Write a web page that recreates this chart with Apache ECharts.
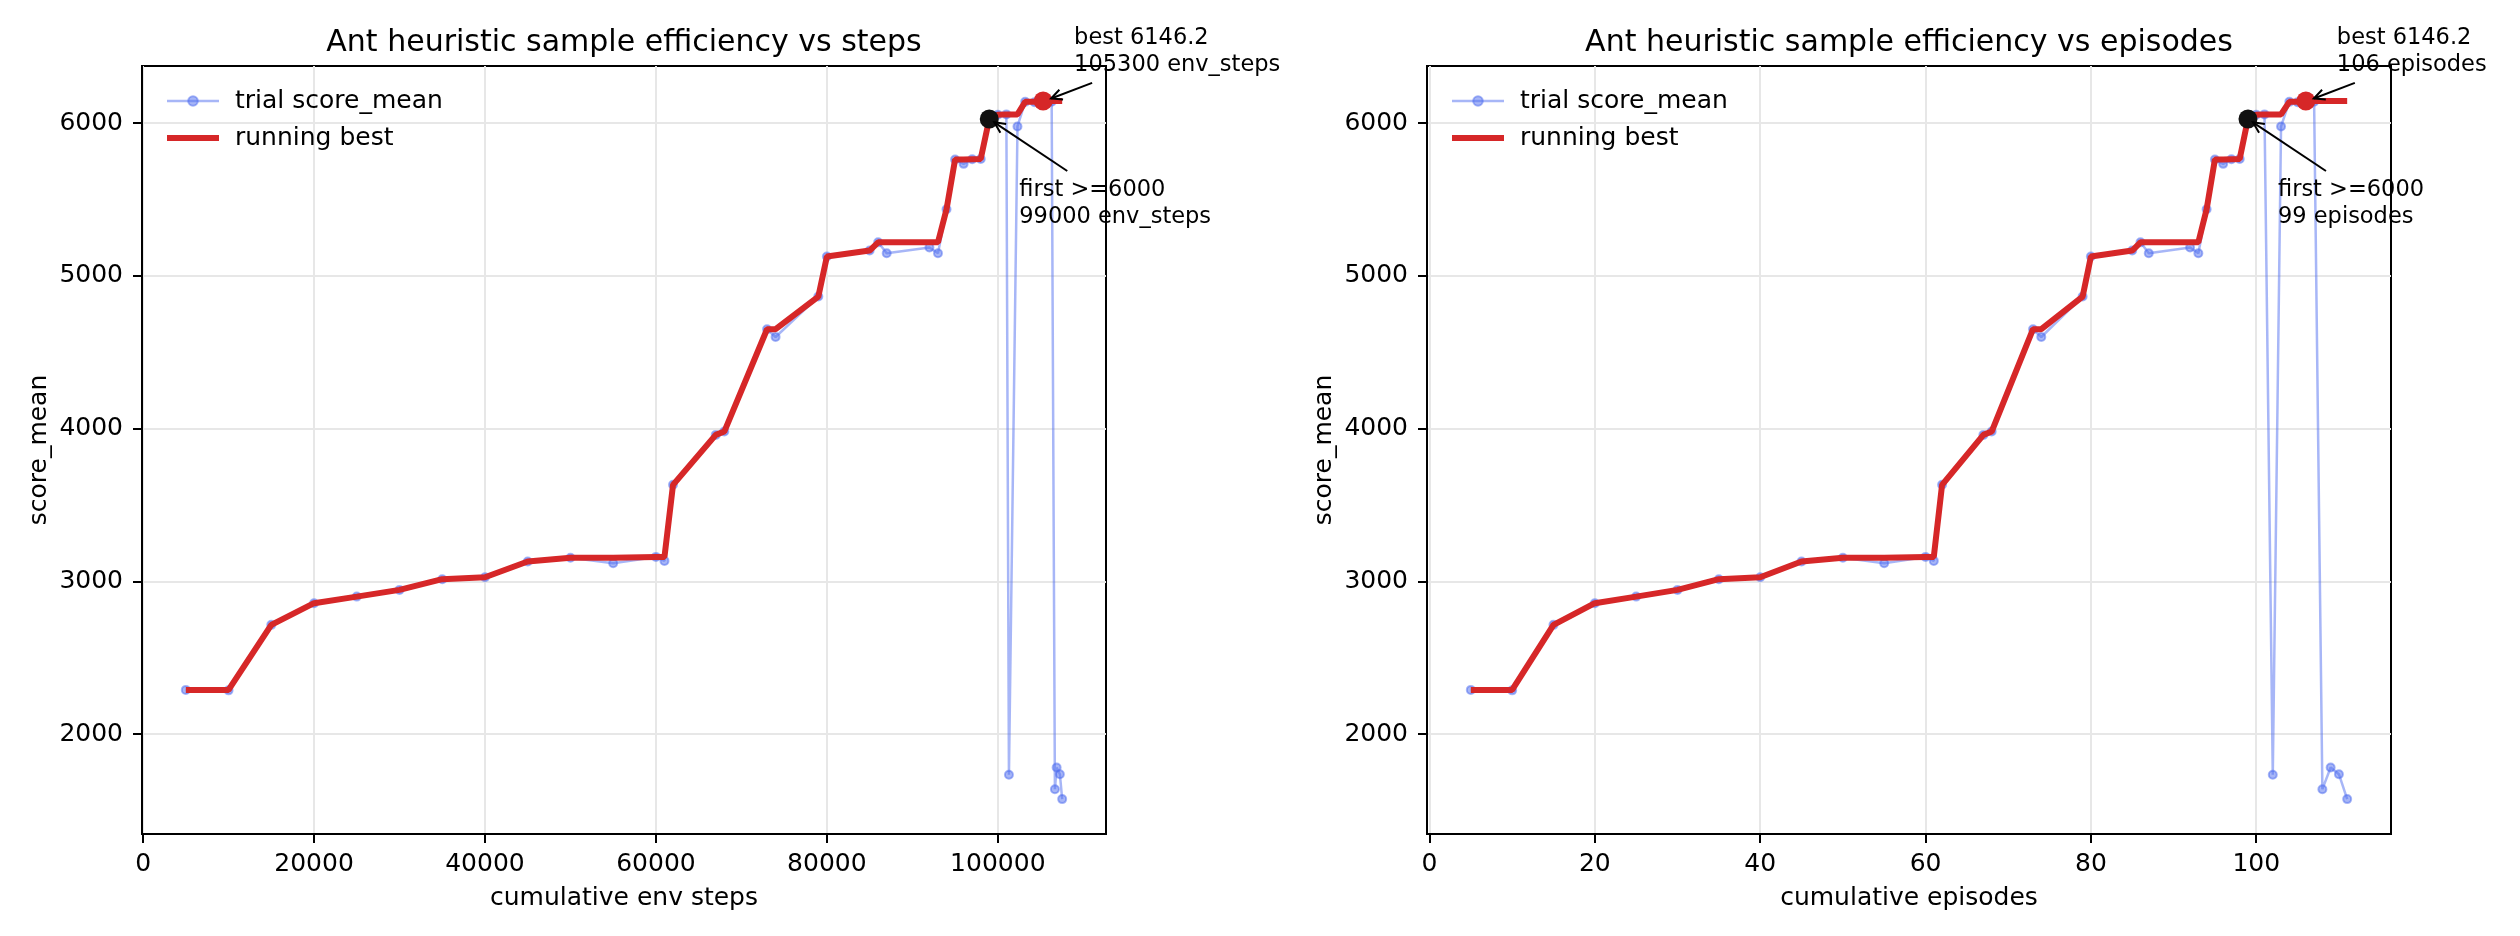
<!DOCTYPE html>
<html>
<head>
<meta charset="utf-8">
<script src="https://cdn.jsdelivr.net/npm/echarts@6/dist/echarts.min.js"></script>
<style>
  html, body { margin: 0; padding: 0; background: #fff; }
  #chart { width: 2520px; height: 936px; }
</style>
</head>
<body>
<div id="chart"></div>
<script>
// trial data
var envSteps = [5000, 10000, 15000, 20000, 25000, 30000, 35000, 40000, 45000, 50000,
                55000, 60000, 61000, 62000, 67000, 68000, 73000, 74000, 79000, 80000,
                85000, 86000, 87000, 92000, 93000, 94000, 95000, 96000, 97000, 98000,
                99000, 100000, 101000, 101300, 102300, 103200, 104300, 105300, 106300, 106680,
                106880, 107260, 107530];
var episodes = [5, 10, 15, 20, 25, 30, 35, 40, 45, 50,
                55, 60, 61, 62, 67, 68, 73, 74, 79, 80,
                85, 86, 87, 92, 93, 94, 95, 96, 97, 98,
                99, 100, 101, 102, 103, 104, 105, 106, 107, 108,
                109, 110, 111];
var scoreMean = [2289, 2286, 2715, 2857, 2900, 2944, 3014, 3027, 3130, 3155,
                 3119, 3160, 3134, 3632, 3959, 3981, 4651, 4600, 4865, 5127,
                 5166, 5220, 5149, 5186, 5149, 5437, 5762, 5734, 5764, 5766,
                 6028, 6055, 6058, 1733, 5979, 6140, 6138, 6146.2, 6141, 1639,
                 1781, 1737, 1574];

var stepTicks = [0, 20000, 40000, 60000, 80000, 100000];
var episodeTicks = [0, 20, 40, 60, 80, 100];
var scoreTicks = [2000, 3000, 4000, 5000, 6000];
var threshold = 6000;

var FONT = 'DejaVu Sans';
var BLUE = 'rgba(80,110,240,0.5)';
var RED = '#d62728';

function runningMax(vals) {
    var out = [], m = -Infinity;
    vals.forEach(function (v) { m = Math.max(m, v); out.push(m); });
    return out;
}
function pairs(xs, ys) {
    return xs.map(function (x, i) { return [x, ys[i]]; });
}
function padExtent(vals) {
    var lo = Math.min.apply(null, vals), hi = Math.max.apply(null, vals);
    var m = (hi - lo) * 0.05;
    return [lo - m, hi + m];
}
function plain(v) { return String(v); }

var best = runningMax(scoreMean);
var bestIdx = scoreMean.indexOf(Math.max.apply(null, scoreMean));
var firstIdx = scoreMean.findIndex(function (v) { return v >= threshold; });
var yExt = padExtent(scoreMean);

var panels = [
    {xs: envSteps, ticks: stepTicks, unit: 'env_steps', left: 142,
     title: 'Ant heuristic sample efficiency vs steps', xName: 'cumulative env steps'},
    {xs: episodes, ticks: episodeTicks, unit: 'episodes', left: 1427,
     title: 'Ant heuristic sample efficiency vs episodes', xName: 'cumulative episodes'}
];
var GW = 964, GT = 66, GH = 768;

var option = {
    backgroundColor: '#fff',
    animation: false,
    textStyle: {fontFamily: FONT, color: '#000'},
    title: [], legend: [], grid: [], xAxis: [], yAxis: [], series: []
};

panels.forEach(function (p, i) {
    var xExt = padExtent(p.xs);
    option.title.push({
        text: p.title, left: p.left + GW / 2, top: 28, textAlign: 'center', padding: 0,
        textStyle: {fontFamily: FONT, fontSize: 30, fontWeight: 'normal', color: '#000'}
    });
    option.legend.push({
        orient: 'vertical', left: p.left + 22, top: 88, padding: 0,
        itemWidth: 52, itemHeight: 12, itemGap: 11, selectedMode: false,
        data: [
            {name: 'trial score_mean', lineStyle: {width: 2.5}},
            {name: 'running best', lineStyle: {width: 6}, itemStyle: {opacity: 0}}
        ],
        textStyle: {fontFamily: FONT, fontSize: 25, color: '#000', lineHeight: 26, padding: [0, 0, 0, 11]}
    });
    option.grid.push({
        left: p.left, top: GT, width: GW, height: GH, show: true,
        borderColor: '#000', borderWidth: 2, backgroundColor: 'transparent'
    });
    option.xAxis.push({
        type: 'value', gridIndex: i, min: xExt[0], max: xExt[1],
        name: p.xName, nameLocation: 'middle', nameGap: 52,
        nameTextStyle: {fontFamily: FONT, fontSize: 25, color: '#000'},
        axisLine: {show: true, onZero: false, lineStyle: {color: '#000', width: 2}},
        axisTick: {show: true, length: 9, customValues: p.ticks, lineStyle: {color: '#000', width: 2}},
        axisLabel: {customValues: p.ticks, formatter: plain, margin: 18,
                    fontFamily: FONT, fontSize: 25, color: '#000'},
        splitLine: {show: true, lineStyle: {color: '#e7e7e7', width: 2}}
    });
    option.yAxis.push({
        type: 'value', gridIndex: i, min: yExt[0], max: yExt[1],
        name: 'score_mean', nameLocation: 'middle', nameGap: 90, nameRotate: 90,
        nameTextStyle: {fontFamily: FONT, fontSize: 25, color: '#000'},
        axisLine: {show: true, onZero: false, lineStyle: {color: '#000', width: 2}},
        axisTick: {show: true, length: 9, customValues: scoreTicks, lineStyle: {color: '#000', width: 2}},
        axisLabel: {customValues: scoreTicks, formatter: plain, margin: 19,
                    fontFamily: FONT, fontSize: 25, color: '#000'},
        splitLine: {show: true, lineStyle: {color: '#e7e7e7', width: 2}}
    });
    option.series.push({
        name: 'trial score_mean', type: 'line', xAxisIndex: i, yAxisIndex: i,
        data: pairs(p.xs, scoreMean), symbol: 'circle', symbolSize: 8, showSymbol: true,
        lineStyle: {color: BLUE, width: 2.5},
        itemStyle: {color: BLUE, borderColor: BLUE, borderWidth: 2},
        z: 2, clip: false
    });
    option.series.push({
        name: 'running best', type: 'line', xAxisIndex: i, yAxisIndex: i,
        data: pairs(p.xs, best), symbol: 'none',
        lineStyle: {color: RED, width: 6}, itemStyle: {color: RED},
        z: 3
    });
    option.series.push({
        name: 'first', type: 'scatter', xAxisIndex: i, yAxisIndex: i,
        data: [[p.xs[firstIdx], scoreMean[firstIdx]]], symbolSize: 19,
        itemStyle: {color: '#111', opacity: 1}, z: 4
    });
    option.series.push({
        name: 'best', type: 'scatter', xAxisIndex: i, yAxisIndex: i,
        data: [[p.xs[bestIdx], scoreMean[bestIdx]]], symbolSize: 19,
        itemStyle: {color: RED, opacity: 1}, z: 4
    });
});

var chart = echarts.init(document.getElementById('chart'));
chart.setOption(option);

// annotations: text + arrow, offsets in pixels from the marked point
function arrow(tail, tip) {
    var dx = tip[0] - tail[0], dy = tip[1] - tail[1];
    var a = Math.atan2(dy, dx), L = 12, w = 0.45;
    var h1 = [tip[0] - L * Math.cos(a - w), tip[1] - L * Math.sin(a - w)];
    var h2 = [tip[0] - L * Math.cos(a + w), tip[1] - L * Math.sin(a + w)];
    return [
        {type: 'line', shape: {x1: tail[0], y1: tail[1], x2: tip[0], y2: tip[1]},
         style: {stroke: '#000', lineWidth: 2}, z: 10},
        {type: 'polyline', shape: {points: [h1, tip, h2]},
         style: {stroke: '#000', lineWidth: 2, fill: null}, z: 10}
    ];
}
function note(x, y, text) {
    return {type: 'text', x: x, y: y, z: 10,
            style: {text: text, fill: '#000', font: '22.5px "DejaVu Sans"', lineHeight: 27,
                    align: 'left', verticalAlign: 'top'}};
}

var graphics = [];
panels.forEach(function (p, i) {
    var pb = chart.convertToPixel({xAxisIndex: i, yAxisIndex: i}, [p.xs[bestIdx], scoreMean[bestIdx]]);
    var pf = chart.convertToPixel({xAxisIndex: i, yAxisIndex: i}, [p.xs[firstIdx], scoreMean[firstIdx]]);
    graphics.push(note(pb[0] + 31, pb[1] - 76,
        'best ' + scoreMean[bestIdx].toFixed(1) + '\n' + p.xs[bestIdx] + ' ' + p.unit));
    graphics = graphics.concat(arrow([pb[0] + 49, pb[1] - 18], [pb[0] + 8, pb[1] - 2.4]));
    graphics.push(note(pf[0] + 30, pf[1] + 58,
        'first >=' + threshold + '\n' + p.xs[firstIdx] + ' ' + p.unit));
    graphics = graphics.concat(arrow([pf[0] + 78, pf[1] + 52], [pf[0] + 5, pf[1] + 3.4]));
});
chart.setOption({graphic: graphics});
</script>
</body>
</html>
